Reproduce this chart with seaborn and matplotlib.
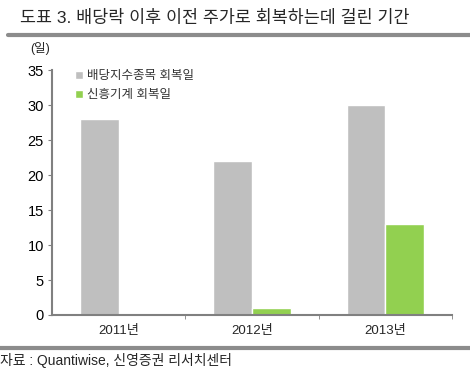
import numpy as np
import pandas as pd
import seaborn as sns
import matplotlib.pyplot as plt
from matplotlib.lines import Line2D

years = ['2011년', '2012년', '2013년']
series = ['배당지수종목 회복일', '신흥기계 회복일']
dividend_days = [28, 22, 30]
machine_days = [0, 1, 13]

df = pd.DataFrame({
    'year': years * 2,
    'series': [series[0]] * 3 + [series[1]] * 3,
    'days': dividend_days + machine_days,
})

sns.set_style('white')
plt.rcParams['font.family'] = ['Liberation Sans', 'Noto Sans CJK KR']

fig = plt.figure(figsize=(4.7, 3.77), dpi=100)
ax = fig.add_axes([0.111, 0.1645, 0.851, 0.6495])

sns.barplot(data=df, x='year', y='days', hue='series', hue_order=series,
            palette=['#BFBFBF', '#92D050'], width=0.58, ax=ax, saturation=1)

ax.set_ylim(0, 35)
ax.set_xlim(-0.5, 2.5)
ax.set_yticks(range(0, 36, 5))
ax.set_xlabel('')
ax.set_ylabel('')
ax.tick_params(axis='y', labelsize=10.5, length=3, direction='out', colors='#808080',
               labelcolor='black', left=True, pad=3)
ax.tick_params(axis='x', labelsize=9.5, length=0, pad=7)
ax.set_xticks([0.5, 1.5, 2.5], minor=True)
ax.tick_params(axis='x', which='minor', length=3, direction='out', colors='#808080', bottom=True)
for s in ['top', 'right']:
    ax.spines[s].set_visible(False)
for s in ['left', 'bottom']:
    ax.spines[s].set_color('#808080')
    ax.spines[s].set_linewidth(1.5)

leg = ax.legend(loc='upper left', bbox_to_anchor=(0.03, 1.045), frameon=False, fontsize=9,
                handlelength=0.6, handleheight=0.6, handletextpad=0.3, labelspacing=0.55)
for t in leg.get_texts():
    t.set_color('#333333')

fig.text(0.042, 0.952, '도표 3. 배당락 이후 이전 주가로 회복하는데 걸린 기간', fontsize=12.5,
         va='center', ha='left')
fig.add_artist(Line2D([0.017, 1.0], [0.907, 0.907], color='#8C8C8C', lw=3))
fig.text(0.064, 0.872, '(일)', fontsize=9, va='center', ha='left')
fig.add_artist(Line2D([0.0, 1.0], [0.077, 0.077], color='#8C8C8C', lw=3))
fig.text(0.0, 0.045, '자료 : Quantiwise, 신영증권 리서치센터', fontsize=10, va='center', ha='left')

fig.savefig('out.png', dpi=100)
